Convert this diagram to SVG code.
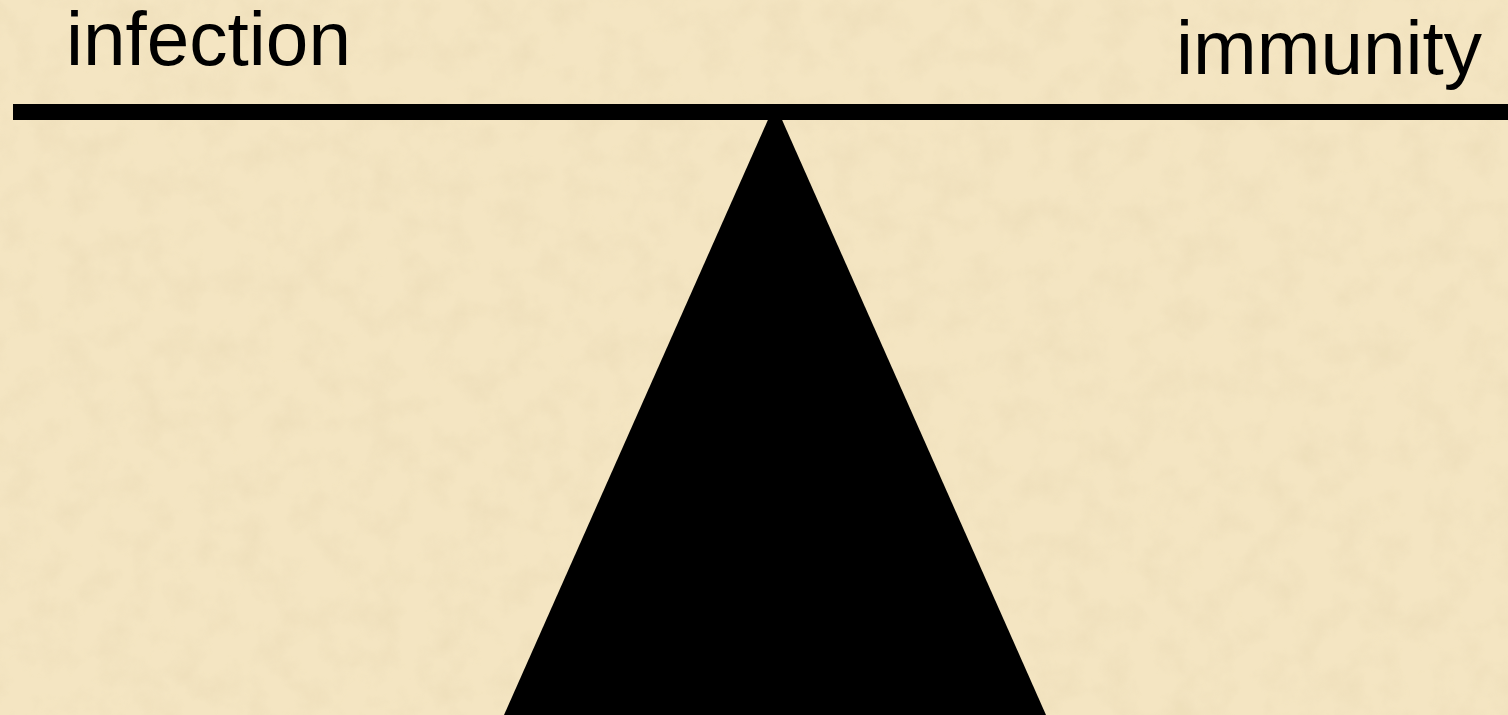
<svg xmlns="http://www.w3.org/2000/svg" width="1508" height="715" viewBox="0 0 1508 715">
  <defs>
    <filter id="paper" x="0" y="0" width="100%" height="100%">
      <feTurbulence type="fractalNoise" baseFrequency="0.03" numOctaves="4" seed="7" result="n"/>
      <feColorMatrix in="n" type="matrix" values="0 0 0 0 0.84  0 0 0 0 0.72  0 0 0 0 0.48  0 0 0 -2.2 1.3" result="c"/>
      <feComposite in="c" in2="SourceGraphic" operator="in"/>
    </filter>
    <style>
      .lbl { font-family: "Liberation Sans", Arial, sans-serif; font-size: 76.5px; fill: #000; }
      .ink { fill: #000; }
    </style>
  </defs>
  <g id="background">
    <rect x="0" y="0" width="1508" height="715" fill="#F4E5C2"/>
    <rect x="0" y="0" width="1508" height="715" fill="#F4E5C2" filter="url(#paper)" opacity="0.6"/>
  </g>
  <g id="labels">
    <text id="infection" class="lbl" x="66" y="65">infection</text>
    <text id="immunity" class="lbl" x="1176" y="74">immunity</text>
  </g>
  <g id="fulcrum">
    <polygon class="ink" points="775,104 1046,715 504,715"/>
  </g>
  <g id="beam">
    <rect class="ink" x="13" y="104" width="1495" height="16"/>
  </g>
</svg>
